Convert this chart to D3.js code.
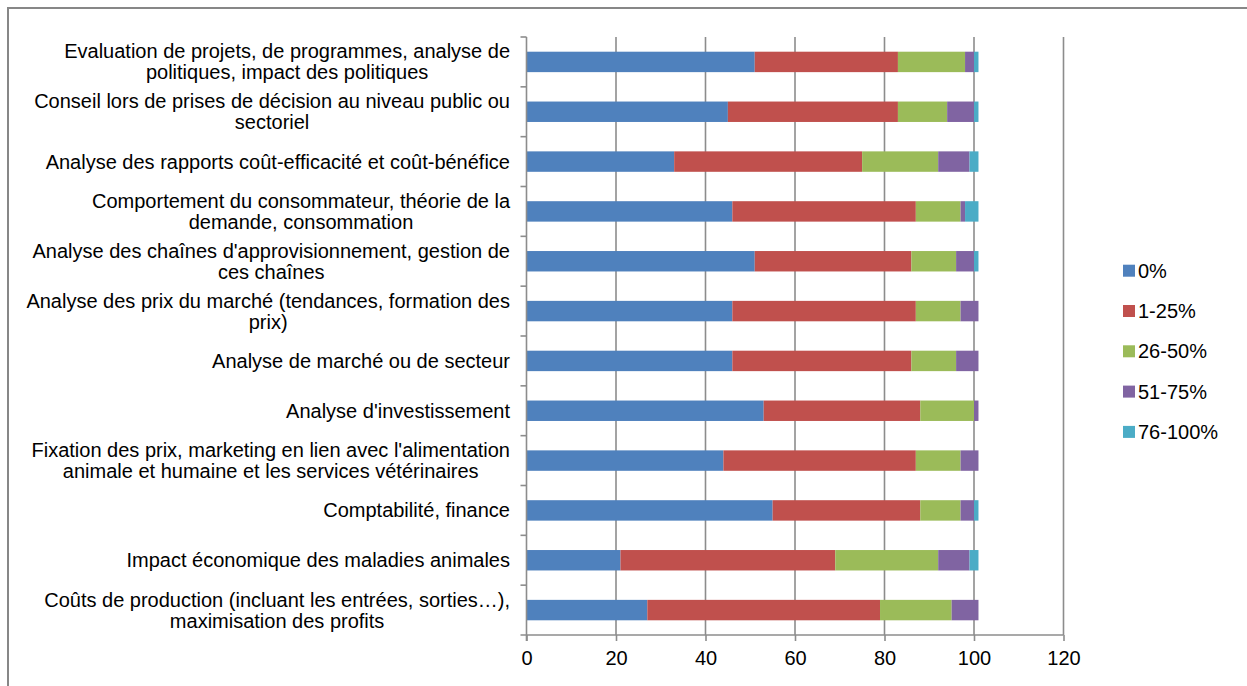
<!DOCTYPE html>
<html>
<head>
<meta charset="utf-8">
<script src="https://d3js.org/d3.v7.min.js"></script>
<style>
  body { margin: 0; background: #fff; }
  svg text { font-family: Arial, "Liberation Sans", sans-serif; fill: #000; }
</style>
</head>
<body>
<svg id="chart" width="1247" height="686"></svg>
<script>

// categories, top to bottom (line breaks as in the original chart)
var categories = [
  "Evaluation de projets, de programmes, analyse de\npolitiques, impact des politiques",
  "Conseil lors de prises de décision au niveau public ou\nsectoriel",
  "Analyse des rapports coût-efficacité et coût-bénéfice",
  "Comportement du consommateur, théorie de la\ndemande, consommation",
  "Analyse des chaînes d'approvisionnement, gestion de\nces chaînes",
  "Analyse des prix du marché (tendances, formation des\nprix)",
  "Analyse de marché ou de secteur",
  "Analyse d'investissement",
  "Fixation des prix, marketing en lien avec l'alimentation\nanimale et humaine et les services vétérinaires",
  "Comptabilité, finance",
  "Impact économique des maladies animales",
  "Coûts de production (incluant les entrées, sorties…),\nmaximisation des profits"
];

var seriesNames = ["0%", "1-25%", "26-50%", "51-75%", "76-100%"];

var s0   = [51, 45, 33, 46, 51, 46, 46, 53, 44, 55, 21, 27];
var s25  = [32, 38, 42, 41, 35, 41, 40, 35, 43, 33, 48, 52];
var s50  = [15, 11, 17, 10, 10, 10, 10, 12, 10,  9, 23, 16];
var s75  = [ 2,  6,  7,  1,  4,  4,  5,  1,  4,  3,  7,  6];
var s100 = [ 1,  1,  2,  3,  1,  0,  0,  0,  0,  1,  2,  0];

var xTicks = [0, 20, 40, 60, 80, 100, 120];

var colors = ["#4F81BD", "#C0504D", "#9BBB59", "#8064A2", "#4BACC6"];

// build rows for d3.stack
var rows = categories.map(function(c, i) {
  return { cat: c, "0%": s0[i], "1-25%": s25[i], "26-50%": s50[i], "51-75%": s75[i], "76-100%": s100[i] };
});

var svg = d3.select("#chart");
var fontSize = "20px";

// outer chart border
svg.append("rect")
  .attr("x", 8).attr("y", 8)
  .attr("width", 1260).attr("height", 700)
  .attr("fill", "none")
  .attr("stroke", "#878787")
  .attr("stroke-width", 2);

var margin = {left: 526.5, right: 1063.5, top: 37, bottom: 635};

var x = d3.scaleLinear().domain([0, 120]).range([margin.left, margin.right]);
var y = d3.scaleBand().domain(categories).range([margin.top, margin.bottom]).paddingInner(0.59).paddingOuter(0.295);

// gridlines
svg.append("g")
  .selectAll("line")
  .data(xTicks.slice(1))
  .enter().append("line")
  .attr("x1", function(d) { return x(d); })
  .attr("x2", function(d) { return x(d); })
  .attr("y1", margin.top)
  .attr("y2", margin.bottom)
  .attr("stroke", "#8c8c8c")
  .attr("stroke-width", 1.6);

// bars
var stack = d3.stack().keys(seriesNames);
var layers = stack(rows);

svg.append("g")
  .selectAll("g")
  .data(layers)
  .enter().append("g")
  .attr("fill", function(d, i) { return colors[i]; })
  .selectAll("rect")
  .data(function(d) { return d; })
  .enter().append("rect")
  .attr("x", function(d) { return x(d[0]); })
  .attr("width", function(d) { return x(d[1]) - x(d[0]); })
  .attr("y", function(d) { return y(d.data.cat); })
  .attr("height", y.bandwidth());

// x axis
var xAxis = svg.append("g")
  .attr("transform", "translate(0," + margin.bottom + ")")
  .call(d3.axisBottom(x).tickValues(xTicks).tickSize(6).tickSizeOuter(0).tickPadding(10));
xAxis.selectAll("line, path").attr("stroke", "#8c8c8c").attr("stroke-width", 1.6);
xAxis.select("path").attr("d", "M" + (margin.left - 6) + ",0H" + margin.right);
xAxis.selectAll("text").style("font-size", fontSize).attr("fill", "#000");

// y axis line + ticks between categories
var yAxis = svg.append("g");
yAxis.append("line")
  .attr("x1", margin.left).attr("x2", margin.left)
  .attr("y1", margin.top).attr("y2", margin.bottom + 6)
  .attr("stroke", "#8c8c8c").attr("stroke-width", 1.6);
yAxis.selectAll(".ytick")
  .data(d3.range(categories.length))
  .enter().append("line")
  .attr("class", "ytick")
  .attr("x1", margin.left - 6).attr("x2", margin.left)
  .attr("y1", function(i) { return y(categories[i]) - y.step() * y.paddingInner() / 2; })
  .attr("y2", function(i) { return y(categories[i]) - y.step() * y.paddingInner() / 2; })
  .attr("stroke", "#8c8c8c").attr("stroke-width", 1.6);

// category labels: block right aligned, lines centred inside it
var labelRight = 510, lineH = 21;
categories.forEach(function(c) {
  var lines = c.split("\n");
  var cy = y(c) + y.bandwidth() / 2;
  var g = svg.append("g");
  var texts = lines.map(function(l, j) {
    return g.append("text")
      .attr("y", cy + (j - (lines.length - 1) / 2) * lineH)
      .attr("dy", "0.35em")
      .attr("text-anchor", "middle")
      .style("font-size", fontSize)
      .text(l);
  });
  var w = d3.max(texts, function(t) { return t.node().getComputedTextLength(); });
  texts.forEach(function(t) { t.attr("x", labelRight - w / 2); });
});

// legend
var legend = svg.append("g")
  .selectAll("g")
  .data(seriesNames)
  .enter().append("g")
  .attr("transform", function(d, i) { return "translate(1123," + (270.7 + i * 40.3) + ")"; });

legend.append("rect")
  .attr("x", 0).attr("y", -6)
  .attr("width", 12).attr("height", 12)
  .attr("fill", function(d, i) { return colors[i]; });

legend.append("text")
  .attr("x", 15)
  .attr("dy", "0.35em")
  .style("font-size", fontSize)
  .text(function(d) { return d; });

</script>
</body>
</html>
